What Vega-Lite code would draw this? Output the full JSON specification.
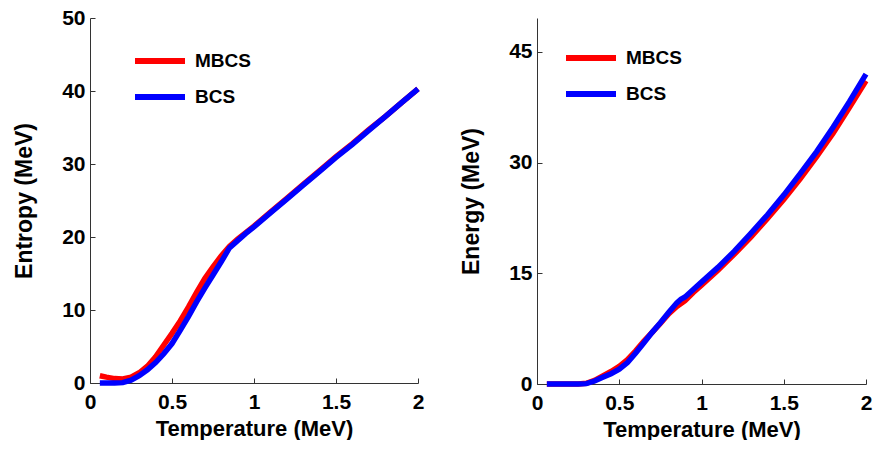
{
  "$schema": "https://vega.github.io/schema/vega-lite/v6.json",
  "background": "white",
  "padding": {"left": 13, "top": 7, "right": 0, "bottom": 0},
  "bounds": "flush",
  "spacing": 119,
  "config": {
    "view": {"stroke": null},
    "font": "Liberation Sans",
    "axis": {
      "grid": false,
      "labelFont": "Liberation Sans",
      "labelFontWeight": "bold",
      "labelFontSize": 21,
      "labelColor": "black",
      "titleFont": "Liberation Sans",
      "titleFontWeight": "bold",
      "titleColor": "black",
      "domainColor": "#333333",
      "tickColor": "#333333",
      "tickSize": -5,
      "labelFlush": false,
      "labelOverlap": false
    },
    "axisX": {"labelPadding": 13, "titleFontSize": 22, "titlePadding": 6, "format": "~g"},
    "axisY": {"labelPadding": 10, "titleFontSize": 23, "titlePadding": 25},
    "legend": {
      "orient": "none",
      "title": null,
      "symbolType": "M-2.5,0H2.5",
      "symbolStrokeWidth": 6,
      "symbolSize": 400,
      "labelFont": "Liberation Sans",
      "labelFontWeight": "bold",
      "labelFontSize": 19,
      "labelColor": "black",
      "labelOffset": 22,
      "rowPadding": 11,
      "padding": 0
    }
  },
  "datasets": {
    "entropy": [
      {"T":0.06,"v":1.0,"s":"MBCS"},{"T":0.1,"v":0.8,"s":"MBCS"},{"T":0.15,"v":0.6,"s":"MBCS"},{"T":0.2,"v":0.55,"s":"MBCS"},{"T":0.25,"v":0.8,"s":"MBCS"},{"T":0.3,"v":1.4,"s":"MBCS"},{"T":0.35,"v":2.3,"s":"MBCS"},{"T":0.4,"v":3.6,"s":"MBCS"},{"T":0.45,"v":5.2,"s":"MBCS"},{"T":0.5,"v":6.8,"s":"MBCS"},{"T":0.55,"v":8.5,"s":"MBCS"},{"T":0.6,"v":10.4,"s":"MBCS"},{"T":0.65,"v":12.4,"s":"MBCS"},{"T":0.7,"v":14.3,"s":"MBCS"},{"T":0.75,"v":15.9,"s":"MBCS"},{"T":0.8,"v":17.4,"s":"MBCS"},{"T":0.85,"v":18.7,"s":"MBCS"},{"T":0.9,"v":19.7,"s":"MBCS"},{"T":0.95,"v":20.6,"s":"MBCS"},{"T":1.0,"v":21.5,"s":"MBCS"},{"T":1.1,"v":23.4,"s":"MBCS"},{"T":1.2,"v":25.3,"s":"MBCS"},{"T":1.3,"v":27.2,"s":"MBCS"},{"T":1.4,"v":29.1,"s":"MBCS"},{"T":1.5,"v":31.0,"s":"MBCS"},{"T":1.6,"v":32.8,"s":"MBCS"},{"T":1.7,"v":34.7,"s":"MBCS"},{"T":1.8,"v":36.5,"s":"MBCS"},{"T":1.9,"v":38.4,"s":"MBCS"},{"T":2.0,"v":40.3,"s":"MBCS"},
      {"T":0.06,"v":0,"s":"BCS"},{"T":0.1,"v":0,"s":"BCS"},{"T":0.15,"v":0,"s":"BCS"},{"T":0.2,"v":0.05,"s":"BCS"},{"T":0.25,"v":0.4,"s":"BCS"},{"T":0.3,"v":1.0,"s":"BCS"},{"T":0.35,"v":1.8,"s":"BCS"},{"T":0.4,"v":2.8,"s":"BCS"},{"T":0.45,"v":4.0,"s":"BCS"},{"T":0.5,"v":5.4,"s":"BCS"},{"T":0.55,"v":7.2,"s":"BCS"},{"T":0.6,"v":9.1,"s":"BCS"},{"T":0.65,"v":11.1,"s":"BCS"},{"T":0.7,"v":13.0,"s":"BCS"},{"T":0.75,"v":14.8,"s":"BCS"},{"T":0.8,"v":16.6,"s":"BCS"},{"T":0.85,"v":18.5,"s":"BCS"},{"T":0.9,"v":19.5,"s":"BCS"},{"T":0.95,"v":20.5,"s":"BCS"},{"T":1.0,"v":21.4,"s":"BCS"},{"T":1.1,"v":23.3,"s":"BCS"},{"T":1.2,"v":25.2,"s":"BCS"},{"T":1.3,"v":27.1,"s":"BCS"},{"T":1.4,"v":29.0,"s":"BCS"},{"T":1.5,"v":30.9,"s":"BCS"},{"T":1.6,"v":32.7,"s":"BCS"},{"T":1.7,"v":34.6,"s":"BCS"},{"T":1.8,"v":36.5,"s":"BCS"},{"T":1.9,"v":38.4,"s":"BCS"},{"T":2.0,"v":40.3,"s":"BCS"}
    ],
    "energy": [
      {"T":0.06,"v":0,"s":"MBCS"},{"T":0.1,"v":0,"s":"MBCS"},{"T":0.15,"v":0,"s":"MBCS"},{"T":0.2,"v":0,"s":"MBCS"},{"T":0.25,"v":0,"s":"MBCS"},{"T":0.3,"v":0.1,"s":"MBCS"},{"T":0.35,"v":0.5,"s":"MBCS"},{"T":0.4,"v":1.1,"s":"MBCS"},{"T":0.45,"v":1.7,"s":"MBCS"},{"T":0.5,"v":2.4,"s":"MBCS"},{"T":0.55,"v":3.3,"s":"MBCS"},{"T":0.6,"v":4.5,"s":"MBCS"},{"T":0.65,"v":5.8,"s":"MBCS"},{"T":0.7,"v":7.0,"s":"MBCS"},{"T":0.75,"v":8.2,"s":"MBCS"},{"T":0.8,"v":9.5,"s":"MBCS"},{"T":0.85,"v":10.5,"s":"MBCS"},{"T":0.9,"v":11.3,"s":"MBCS"},{"T":0.95,"v":12.4,"s":"MBCS"},{"T":1.0,"v":13.4,"s":"MBCS"},{"T":1.1,"v":15.4,"s":"MBCS"},{"T":1.2,"v":17.6,"s":"MBCS"},{"T":1.3,"v":19.9,"s":"MBCS"},{"T":1.4,"v":22.4,"s":"MBCS"},{"T":1.5,"v":25.0,"s":"MBCS"},{"T":1.6,"v":27.8,"s":"MBCS"},{"T":1.7,"v":30.8,"s":"MBCS"},{"T":1.8,"v":34.0,"s":"MBCS"},{"T":1.9,"v":37.5,"s":"MBCS"},{"T":2.0,"v":41.1,"s":"MBCS"},
      {"T":0.06,"v":0,"s":"BCS"},{"T":0.1,"v":0,"s":"BCS"},{"T":0.15,"v":0,"s":"BCS"},{"T":0.2,"v":0,"s":"BCS"},{"T":0.25,"v":0,"s":"BCS"},{"T":0.3,"v":0.05,"s":"BCS"},{"T":0.35,"v":0.4,"s":"BCS"},{"T":0.4,"v":0.9,"s":"BCS"},{"T":0.45,"v":1.4,"s":"BCS"},{"T":0.5,"v":2.0,"s":"BCS"},{"T":0.55,"v":2.9,"s":"BCS"},{"T":0.6,"v":4.2,"s":"BCS"},{"T":0.65,"v":5.6,"s":"BCS"},{"T":0.7,"v":7.0,"s":"BCS"},{"T":0.75,"v":8.3,"s":"BCS"},{"T":0.8,"v":9.7,"s":"BCS"},{"T":0.85,"v":11.0,"s":"BCS"},{"T":0.875,"v":11.5,"s":"BCS"},{"T":0.9,"v":11.8,"s":"BCS"},{"T":0.95,"v":12.8,"s":"BCS"},{"T":1.0,"v":13.8,"s":"BCS"},{"T":1.1,"v":15.8,"s":"BCS"},{"T":1.2,"v":18.0,"s":"BCS"},{"T":1.3,"v":20.4,"s":"BCS"},{"T":1.4,"v":22.9,"s":"BCS"},{"T":1.5,"v":25.6,"s":"BCS"},{"T":1.6,"v":28.5,"s":"BCS"},{"T":1.7,"v":31.5,"s":"BCS"},{"T":1.8,"v":34.8,"s":"BCS"},{"T":1.9,"v":38.3,"s":"BCS"},{"T":2.0,"v":42.0,"s":"BCS"}
    ]
  },
  "hconcat": [
    {
      "width": 328,
      "height": 365,
      "data": {"name": "entropy"},
      "mark": {"type": "line", "strokeWidth": 5.5},
      "encoding": {
        "x": {"field": "T", "type": "quantitative", "scale": {"domain": [0, 2], "nice": false}, "axis": {"title": "Temperature (MeV)", "values": [0, 0.5, 1, 1.5, 2]}},
        "y": {"field": "v", "type": "quantitative", "scale": {"domain": [0, 50], "nice": false}, "axis": {"title": "Entropy (MeV)", "values": [0, 10, 20, 30, 40, 50]}},
        "color": {"field": "s", "type": "nominal", "scale": {"domain": ["MBCS", "BCS"], "range": ["#ff0000", "#0000ff"]}, "legend": {"legendX": 57, "legendY": 30}}
      }
    },
    {
      "width": 329,
      "height": 366,
      "data": {"name": "energy"},
      "mark": {"type": "line", "strokeWidth": 5.5},
      "encoding": {
        "x": {"field": "T", "type": "quantitative", "scale": {"domain": [0, 2], "nice": false}, "axis": {"title": "Temperature (MeV)", "values": [0, 0.5, 1, 1.5, 2]}},
        "y": {"field": "v", "type": "quantitative", "scale": {"domain": [0, 49.6], "nice": false}, "axis": {"title": "Energy (MeV)", "values": [0, 15, 30, 45]}},
        "color": {"field": "s", "type": "nominal", "scale": {"domain": ["MBCS", "BCS"], "range": ["#ff0000", "#0000ff"]}, "legend": {"legendX": 41, "legendY": 27}}
      }
    }
  ],
  "resolve": {"scale": {"color": "independent"}, "legend": {"color": "independent"}}
}
